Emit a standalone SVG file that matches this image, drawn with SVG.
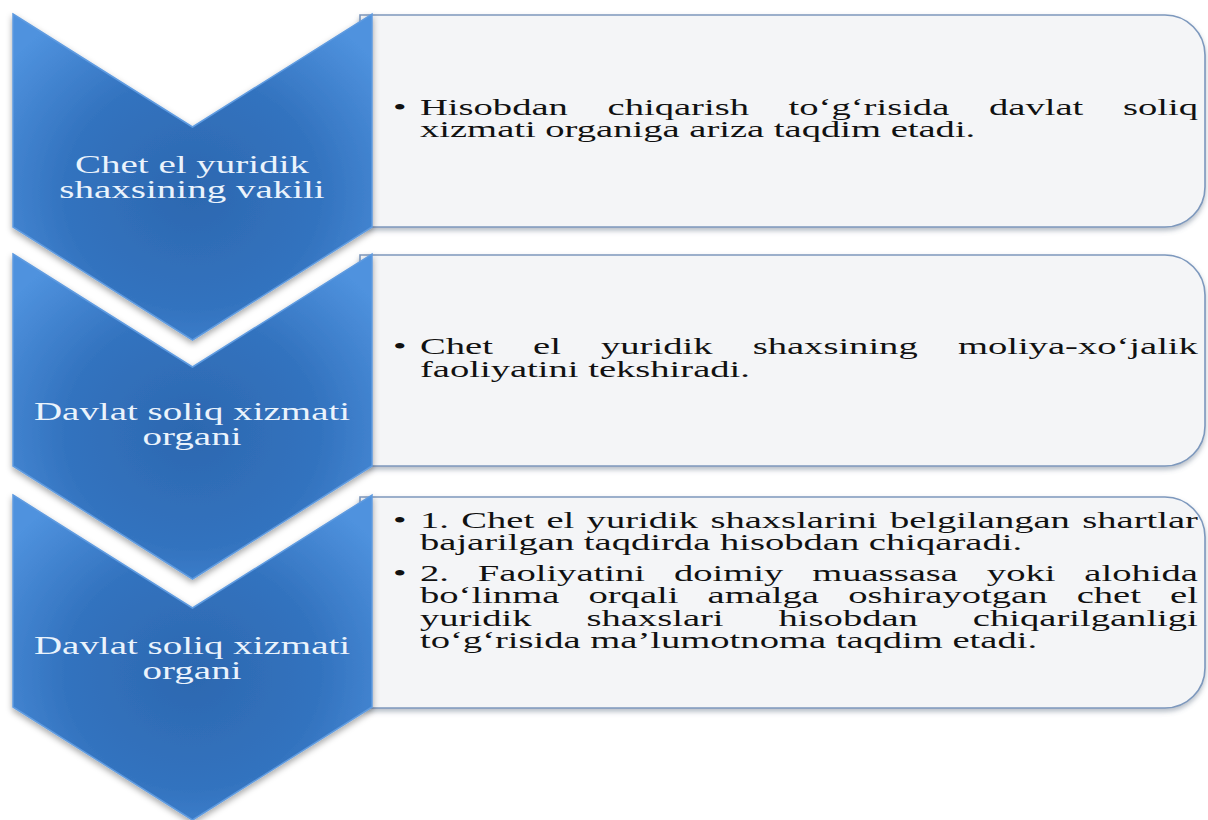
<svg xmlns="http://www.w3.org/2000/svg" width="1208" height="820" viewBox="0 0 1208 820">
<style>
.body{font-family:"Liberation Serif","Times New Roman",serif;font-size:24px;fill:#111111}
.lbl{font-family:"Liberation Serif","Times New Roman",serif;font-size:25px;fill:#eaf3fc;text-anchor:middle}
.box{fill:#f4f5f7;stroke:#7d98bd;stroke-width:1.6}
.chev{fill:url(#chevGrad);stroke:#5f9be0;stroke-width:1.5}
</style>
<defs>
<radialGradient id="chevGrad" cx="0.5" cy="0.55" r="0.65">
<stop offset="0" stop-color="#2c68b0"/>
<stop offset="0.55" stop-color="#3373bf"/>
<stop offset="1" stop-color="#4f92de"/>
</radialGradient>
<filter id="shadow" x="-10%" y="-10%" width="125%" height="130%">
<feDropShadow dx="0" dy="3" stdDeviation="3" flood-color="#000000" flood-opacity="0.35"/>
</filter>
<filter id="boxShadow" x="-5%" y="-10%" width="110%" height="125%">
<feDropShadow dx="0" dy="3" stdDeviation="2.5" flood-color="#5a6a80" flood-opacity="0.45"/>
</filter>
</defs>
<rect width="1208" height="820" fill="#ffffff"/>

<g id="box1">
<path class="box" filter="url(#boxShadow)" d="M360,15 H1165 A40,40 0 0 1 1205,55 V187 A40,40 0 0 1 1165,227 H360 Z"/>
<text class="body" transform="scale(1.608 1)" y="115"><tspan x="244.4">•</tspan><tspan x="261.19">Hisobdan</tspan><tspan x="377.81">chiqarish</tspan><tspan x="490.42">to‘g‘risida</tspan><tspan x="615.03">davlat</tspan><tspan x="698.32">soliq</tspan></text>
<text class="body" transform="scale(1.608 1)" x="261.19" y="137.5">xizmati organiga ariza taqdim etadi.</text>
</g>

<g id="box2">
<path class="box" filter="url(#boxShadow)" d="M360,255 H1165 A40,40 0 0 1 1205,295 V426 A40,40 0 0 1 1165,466 H360 Z"/>
<text class="body" transform="scale(1.608 1)" y="354"><tspan x="244.4">•</tspan><tspan x="261.19">Chet</tspan><tspan x="331.49">el</tspan><tspan x="373.78">yuridik</tspan><tspan x="468.08">shaxsining</tspan><tspan x="595.71">moliya-xo‘jalik</tspan></text>
<text class="body" transform="scale(1.608 1)" x="261.19" y="377">faoliyatini tekshiradi.</text>
</g>

<g id="box3">
<path class="box" filter="url(#boxShadow)" d="M360,497 H1165 A40,40 0 0 1 1205,537 V668 A40,40 0 0 1 1165,708 H360 Z"/>
<text class="body" transform="scale(1.608 1)" y="528"><tspan x="244.4">•</tspan><tspan x="261.19">1.</tspan><tspan x="286.84">Chet</tspan><tspan x="339.83">el</tspan><tspan x="364.81">yuridik</tspan><tspan x="441.80">shaxslarini</tspan><tspan x="553.44">belgilangan</tspan><tspan x="673.07">shartlar</tspan></text>
<text class="body" transform="scale(1.608 1)" x="261.19" y="550.5">bajarilgan taqdirda hisobdan chiqaradi.</text>
<text class="body" transform="scale(1.608 1)" y="581"><tspan x="244.4">•</tspan><tspan x="261.19">2.</tspan><tspan x="297.15">Faoliyatini</tspan><tspan x="419.13">doimiy</tspan><tspan x="505.11">muassasa</tspan><tspan x="613.72">yoki</tspan><tspan x="674.35">alohida</tspan></text>
<text class="body" transform="scale(1.608 1)" y="603.5"><tspan x="261.19">bo‘linma</tspan><tspan x="365.96">orqali</tspan><tspan x="440.06">amalga</tspan><tspan x="527.48">oshirayotgan</tspan><tspan x="669.57">chet</tspan><tspan x="727.66">el</tspan></text>
<text class="body" transform="scale(1.608 1)" y="626"><tspan x="261.19">yuridik</tspan><tspan x="364.70">shaxslari</tspan><tspan x="484.19">hisobdan</tspan><tspan x="605.02">chiqarilganligi</tspan></text>
<text class="body" transform="scale(1.608 1)" x="261.19" y="648.5">to‘g‘risida ma’lumotnoma taqdim etadi.</text>
</g>

<g id="connectors"></g>

<g id="step1">
<path class="chev" filter="url(#shadow)" d="M13,14 L192.5,127 L372,14 L372,227 L192.5,340 L13,227 Z"/>
<text class="lbl" transform="scale(1.56 1)" x="123.1" y="173">Chet el yuridik</text>
<text class="lbl" transform="scale(1.56 1)" x="123.1" y="198">shaxsining vakili</text>
</g>

<g id="step2">
<path class="chev" filter="url(#shadow)" d="M13,254 L192.5,367 L372,254 L372,466 L192.5,579 L13,466 Z"/>
<text class="lbl" transform="scale(1.56 1)" x="123.1" y="420">Davlat soliq xizmati</text>
<text class="lbl" transform="scale(1.56 1)" x="123.1" y="445">organi</text>
</g>

<g id="step3">
<path class="chev" filter="url(#shadow)" d="M13,495 L192.5,608 L372,495 L372,707 L192.5,820 L13,707 Z"/>
<text class="lbl" transform="scale(1.56 1)" x="123.1" y="654">Davlat soliq xizmati</text>
<text class="lbl" transform="scale(1.56 1)" x="123.1" y="679">organi</text>
</g>
</svg>
